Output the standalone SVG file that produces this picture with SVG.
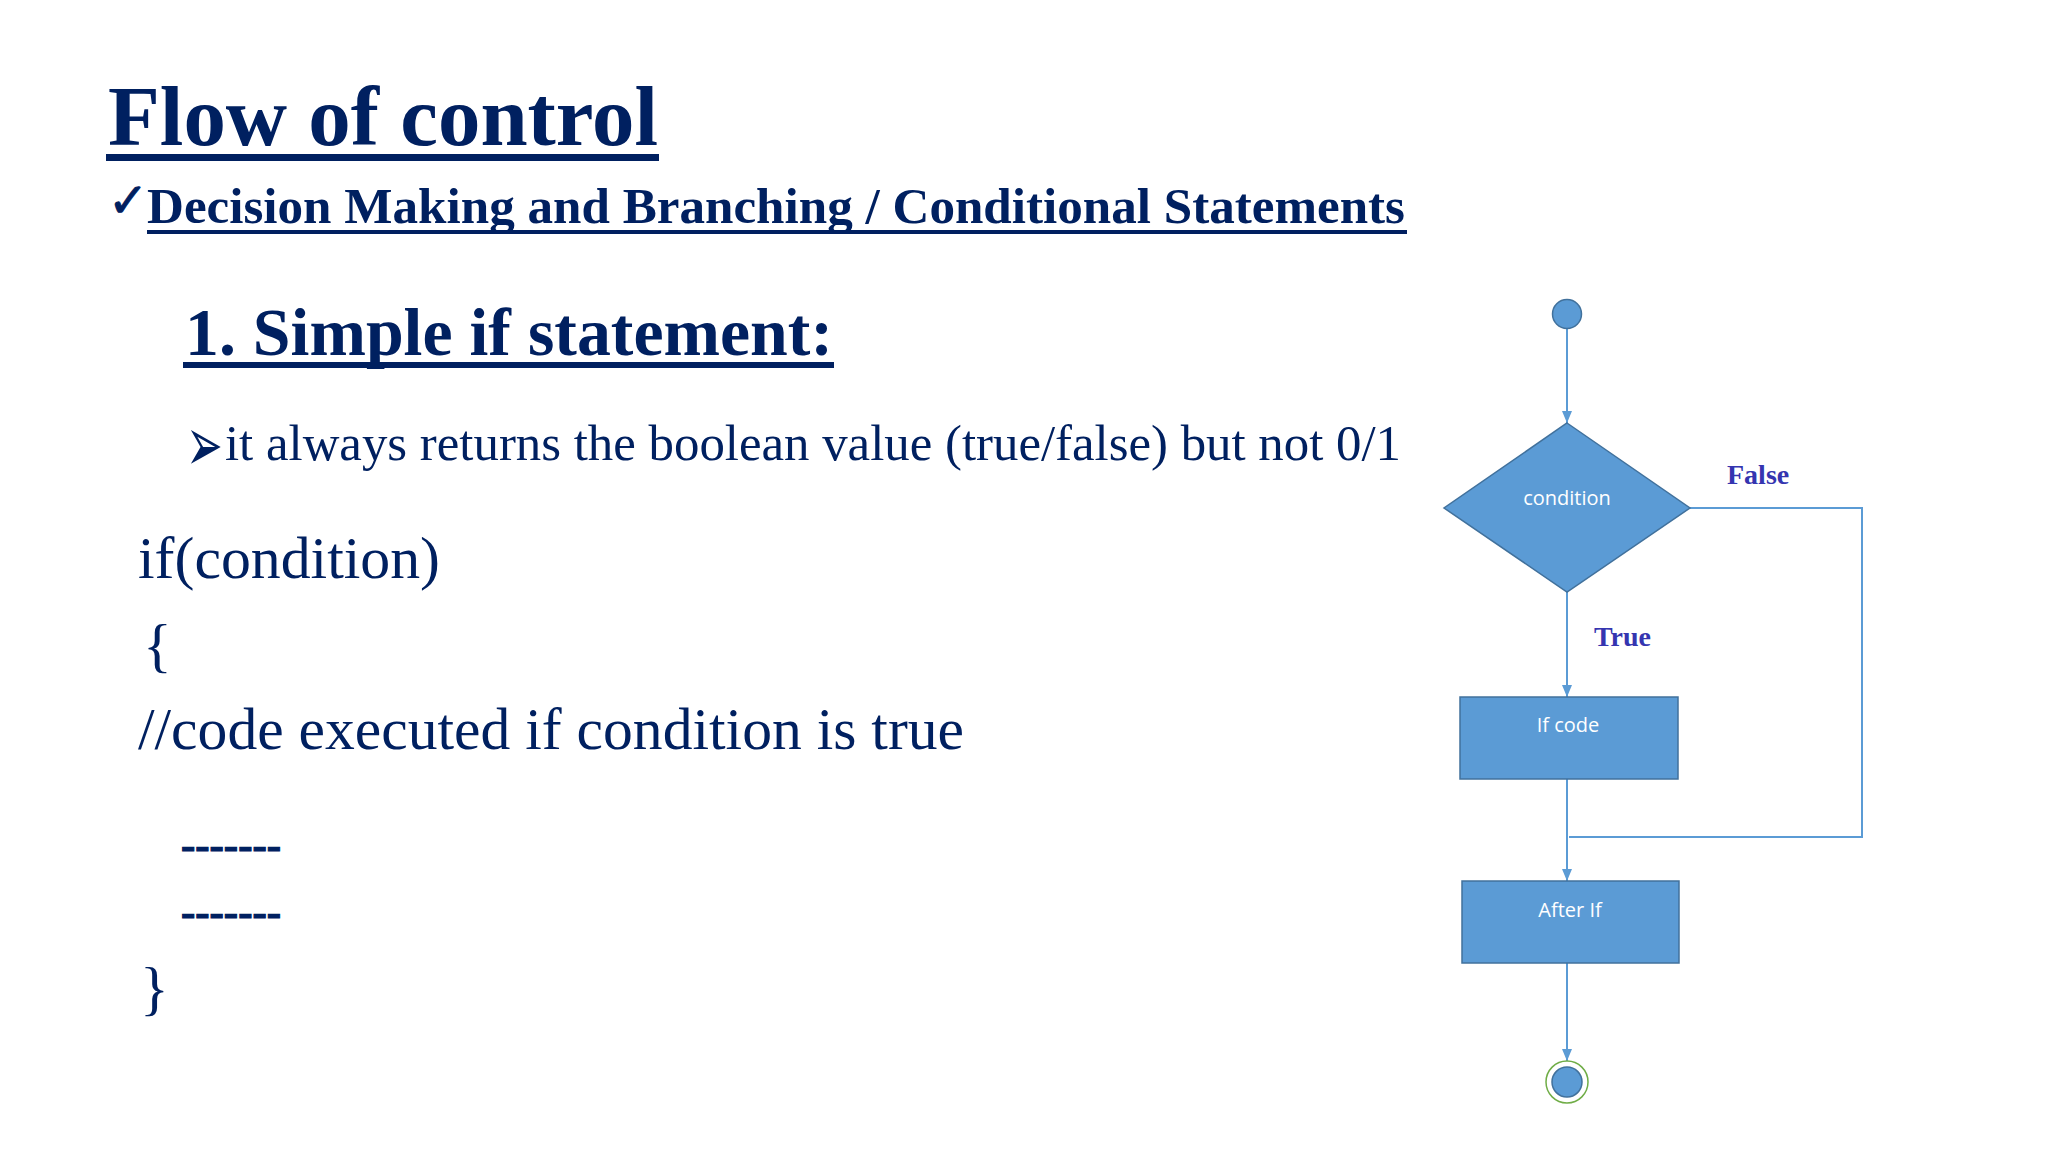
<svg xmlns="http://www.w3.org/2000/svg" width="2048" height="1152" viewBox="0 0 2048 1152">
  <style>
    .navy { fill: #002060; }
    .serif { font-family: "Liberation Serif", "Times New Roman", serif; }
    .bold { font-weight: bold; }
    .ul { fill: #002060; }
    .box { fill: #5b9bd5; stroke: #41719c; stroke-width: 1.5; }
    .lbl { font-family: "Open Sans", "Noto Sans", sans-serif; font-size: 20px; fill: #ffffff; text-anchor: middle; }
    .edge { fill: none; stroke: #5b9bd5; stroke-width: 2; }
    .branch { font-family: "Liberation Serif", serif; font-weight: bold; font-size: 28px; fill: #3535b0; }
  </style>
  <defs>
    <marker id="arrow" markerUnits="userSpaceOnUse" markerWidth="12" markerHeight="12" viewBox="0 0 12 12" refX="12" refY="6" orient="auto">
      <path d="M0,1 L12,6 L0,11 z" fill="#5b9bd5"/>
    </marker>
  </defs>
  <rect width="2048" height="1152" fill="#ffffff"/>

  <g id="title">
    <text class="serif bold navy" x="108" y="145" font-size="85" textLength="550" lengthAdjust="spacingAndGlyphs">Flow of control</text>
    <rect class="ul" x="106" y="154" width="553" height="7"/>
  </g>

  <g id="subtitle">
    <text x="108" y="217" font-family="DejaVu Sans, sans-serif" font-size="48" class="navy" stroke="#002060" stroke-width="1">✓</text>
    <text class="serif bold navy" x="147" y="223" font-size="51" textLength="1258" lengthAdjust="spacingAndGlyphs">Decision Making and Branching / Conditional Statements</text>
    <rect class="ul" x="147" y="230" width="1260" height="4"/>
  </g>

  <g id="heading">
    <text class="serif bold navy" x="185" y="355" font-size="68" textLength="648" lengthAdjust="spacingAndGlyphs">1. Simple if statement:</text>
    <rect class="ul" x="183" y="362" width="651" height="6"/>
  </g>

  <g id="bullet">
    <text transform="translate(186,471) scale(1,1.75)" x="0" y="0" font-family="DejaVu Sans, sans-serif" font-size="44" class="navy">➢</text>
    <text class="serif navy" x="225" y="460" font-size="50" textLength="1176" lengthAdjust="spacingAndGlyphs">it always returns the boolean value (true/false) but not 0/1</text>
  </g>

  <g id="code">
    <text class="serif navy" x="138" y="578" font-size="60" textLength="302" lengthAdjust="spacingAndGlyphs">if(condition)</text>
    <text class="serif navy" x="143" y="665" font-size="60">{</text>
    <text class="serif navy" x="138" y="749" font-size="60" textLength="826" lengthAdjust="spacingAndGlyphs">//code executed if condition is true</text>
    <text class="serif bold navy" x="181" y="859" font-size="43" stroke="#002060" stroke-width="1.2" textLength="100" lengthAdjust="spacingAndGlyphs">-------</text>
    <text class="serif bold navy" x="181" y="926" font-size="43" stroke="#002060" stroke-width="1.2" textLength="100" lengthAdjust="spacingAndGlyphs">-------</text>
    <text class="serif navy" x="140" y="1008" font-size="60">}</text>
  </g>

  <g id="connectors">
    <line class="edge" x1="1567" y1="329" x2="1567" y2="423" marker-end="url(#arrow)"/>
    <line class="edge" x1="1567" y1="592" x2="1567" y2="697" marker-end="url(#arrow)"/>
    <line class="edge" x1="1567" y1="779" x2="1567" y2="881" marker-end="url(#arrow)"/>
    <polyline class="edge" points="1690,508 1862,508 1862,837 1569,837"/>
    <line class="edge" x1="1567" y1="963" x2="1567" y2="1061" marker-end="url(#arrow)"/>
    <text class="branch" x="1727" y="484" font-size="29">False</text>
    <text class="branch" x="1594" y="646" font-size="29">True</text>
  </g>

  <g id="start">
    <circle class="box" cx="1567" cy="314" r="14.5"/>
  </g>

  <g id="condition">
    <polygon class="box" points="1567,423 1690,508 1567,592 1444,508"/>
    <text class="lbl" x="1567" y="505" font-size="21">condition</text>
  </g>

  <g id="ifcode">
    <rect class="box" x="1460" y="697" width="218" height="82"/>
    <text class="lbl" x="1568" y="732" font-size="21">If code</text>
  </g>

  <g id="afterif">
    <rect class="box" x="1462" y="881" width="217" height="82"/>
    <text class="lbl" x="1570" y="917" font-size="21">After If</text>
  </g>

  <g id="end">
    <circle cx="1567" cy="1082" r="21" fill="#ffffff" stroke="#70ad47" stroke-width="1.5"/>
    <circle class="box" cx="1567" cy="1082" r="15"/>
  </g>
</svg>
